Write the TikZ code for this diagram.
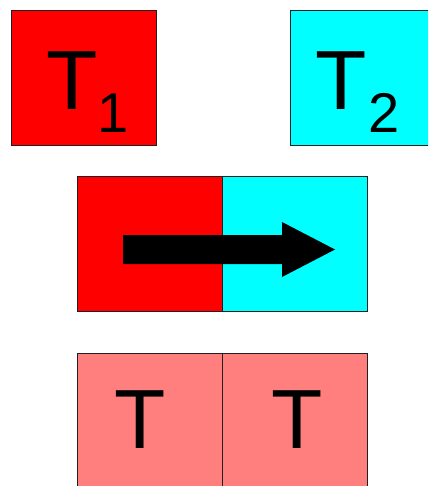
\documentclass[tikz,border=0pt]{standalone}
\usepackage{fontspec}
\setmainfont{Liberation Sans}
\definecolor{tred}{HTML}{FF0000}
\definecolor{tcyan}{HTML}{00FFFF}
\definecolor{tpink}{HTML}{FF7F7F}
\definecolor{edge}{HTML}{202020}
\begin{document}
\begin{tikzpicture}[x=1pt,y=-1pt,
  cell/.style={draw=edge, line width=0.9pt, minimum width=145pt, minimum height=135pt, inner sep=0pt, outer sep=0pt},
  big/.style={anchor=base, inner sep=0pt, font=\fontsize{84}{84}\selectfont},
  sub/.style={anchor=base, inner sep=0pt, font=\fontsize{56}{56}\selectfont}]
\useasboundingbox (0,0) rectangle (428,486);
\clip (0,0) rectangle (428,486);
% top squares
\node[cell, fill=tred] (a) at (84,77.5) {};
\node[cell, fill=tcyan] (b) at (363,77.5) {};
\node[big] (ta) at (72.5,110) {T};
\node[sub] (sa) at (113,133) {1};
\node[big] (tb) at (341,110) {T};
\node[sub] (sb) at (384,133) {2};
% middle pair
\node[cell, fill=tred] (c) at (149.5,243.5) {};
\node[cell, fill=tcyan] (d) at (294.5,243.5) {};
\fill[black] (123,235) -- (282,235) -- (282,222) -- (335,249.5) -- (282,277) -- (282,264) -- (123,264) -- cycle;
% bottom pair
\node[cell, fill=tpink] (e) at (149.5,420.5) {};
\node[cell, fill=tpink] (f) at (294.5,420.5) {};
\node[big] (te) at (140,448) {T};
\node[big] (tf) at (297,448) {T};
\end{tikzpicture}
\end{document}
